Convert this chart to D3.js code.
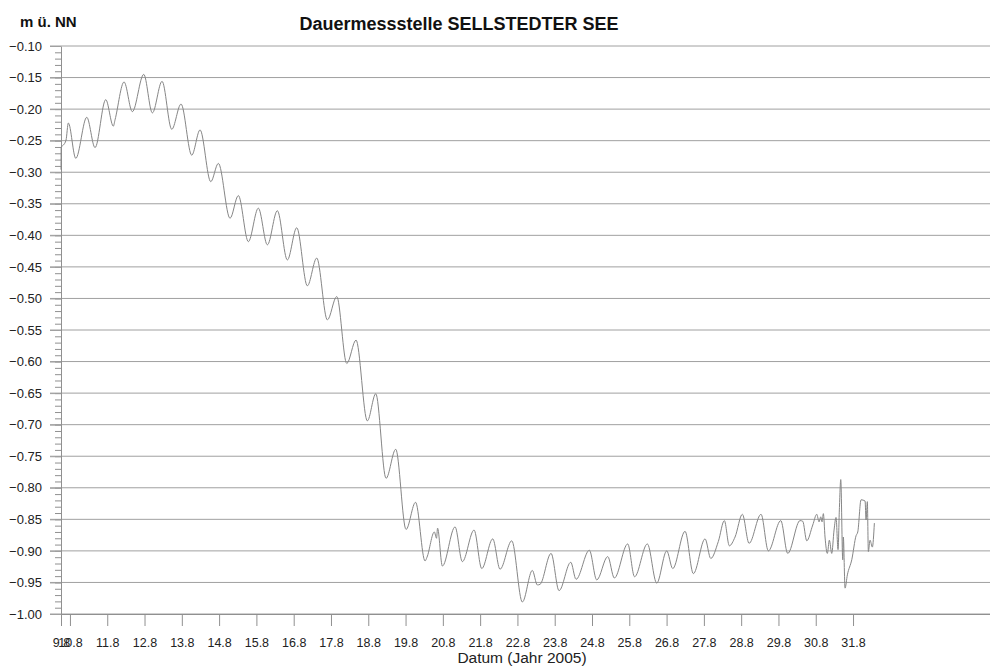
<!DOCTYPE html>
<html>
<head>
<meta charset="utf-8">
<script src="https://cdn.jsdelivr.net/npm/d3@7"></script>
<style>
  html, body { margin: 0; padding: 0; background: #fff; }
  svg { display: block; }
  text { font-family: "Liberation Sans", Arial, sans-serif; }
</style>
</head>
<body>
<svg id="chart" width="990" height="668"></svg>
<script>
// ---- Data ----
// time in days of August 2005 (e.g. 10.5 = 10 Aug, 12:00), water level in m ü. NN
const times = [
  9.760, 9.765, 9.823, 9.895, 9.957, 10.156, 10.451, 10.673, 10.960, 11.164,
  11.209, 11.451, 11.673, 11.979, 12.210, 12.470, 12.730, 12.979, 13.266, 13.489,
  13.776, 13.980, 14.293, 14.516, 14.784, 15.052, 15.294, 15.562, 15.830, 16.082,
  16.366, 16.618, 16.903, 17.155, 17.423, 17.672, 17.975, 18.201, 18.477, 18.737,
  19.013, 19.268, 19.523, 19.575, 19.772, 19.831, 19.858, 19.987, 20.327, 20.523,
  20.837, 21.043, 21.338, 21.534, 21.848, 22.132, 22.400, 22.534, 22.607, 22.902,
  23.116, 23.430, 23.572, 23.929, 24.127, 24.422, 24.599, 24.958, 25.141, 25.484,
  25.736, 26.004, 26.165, 26.495, 26.718, 27.032, 27.185, 27.388, 27.549, 27.683,
  27.836, 28.032, 28.212, 28.533, 28.729, 29.062, 29.249, 29.579, 29.651, 29.759,
  29.920, 30.027, 30.089, 30.134, 30.169, 30.204, 30.249, 30.311, 30.365, 30.429,
  30.491, 30.544, 30.598, 30.633, 30.671, 30.724, 30.740, 30.786, 30.848, 30.966,
  31.081, 31.127, 31.215, 31.323, 31.349, 31.384, 31.411, 31.456, 31.518, 31.572
];
const levels = [
  -0.296, -0.260, -0.257, -0.249, -0.222, -0.278, -0.213, -0.261, -0.185, -0.227,
  -0.217, -0.157, -0.204, -0.145, -0.206, -0.156, -0.232, -0.192, -0.273, -0.233,
  -0.315, -0.286, -0.373, -0.337, -0.410, -0.357, -0.415, -0.361, -0.439, -0.388,
  -0.480, -0.436, -0.534, -0.497, -0.603, -0.566, -0.694, -0.651, -0.785, -0.739,
  -0.866, -0.823, -0.916, -0.910, -0.870, -0.880, -0.864, -0.924, -0.862, -0.917,
  -0.867, -0.928, -0.881, -0.929, -0.884, -0.981, -0.931, -0.954, -0.953, -0.904,
  -0.963, -0.918, -0.945, -0.899, -0.946, -0.909, -0.943, -0.889, -0.941, -0.889,
  -0.951, -0.900, -0.928, -0.869, -0.936, -0.881, -0.912, -0.885, -0.852, -0.892,
  -0.878, -0.842, -0.888, -0.842, -0.900, -0.852, -0.904, -0.852, -0.853, -0.884,
  -0.859, -0.842, -0.854, -0.846, -0.854, -0.841, -0.878, -0.904, -0.883, -0.904,
  -0.867, -0.847, -0.898, -0.835, -0.787, -0.914, -0.878, -0.959, -0.938, -0.914,
  -0.876, -0.870, -0.819, -0.821, -0.851, -0.822, -0.901, -0.883, -0.894, -0.856
];
const xTickDays   = [9.76, 10, 11, 12, 13, 14, 15, 16, 17, 18, 19, 20, 21, 22, 23, 24, 25, 26, 27, 28, 29, 30, 31];
const xTickLabels = ["9.8", "10.8", "11.8", "12.8", "13.8", "14.8", "15.8", "16.8", "17.8", "18.8", "19.8",
                     "20.8", "21.8", "22.8", "23.8", "24.8", "25.8", "26.8", "27.8", "28.8", "29.8", "30.8", "31.8"];
const yTicks = d3.range(0, 19).map(i => +(-1.0 + i * 0.05).toFixed(2));
const yMinorTicks = d3.range(0, 91).map(i => +(-1.0 + i * 0.01).toFixed(2));
const titleText = "Dauermessstelle SELLSTEDTER SEE";
const yTitle = "m ü. NN";
const xTitle = "Datum (Jahr 2005)";

(function () {
  const svg = d3.select("#chart");
  const mLeft = 61, mRight = 990, mTop = 46, mBottom = 614;

  const x = d3.scaleLinear().domain([9.76, 34.673]).range([mLeft, mRight]);
  const y = d3.scaleLinear().domain([-1.0, -0.10]).range([mBottom, mTop]);

  svg.append("rect").attr("width", 990).attr("height", 668).attr("fill", "#fff");

  // grid lines (extend past axis as major ticks)
  svg.append("g").selectAll("line").data(yTicks).join("line")
    .attr("x1", mLeft - 11).attr("x2", mRight)
    .attr("y1", d => y(d)).attr("y2", d => y(d))
    .attr("stroke", "#a0a0a0").attr("stroke-width", 1);

  // minor y ticks
  const yMinor = svg.append("g").attr("transform", `translate(${mLeft},0)`)
    .call(d3.axisLeft(y).tickValues(yMinorTicks).tickSize(6).tickSizeOuter(0).tickFormat(""));
  yMinor.selectAll("line").attr("stroke", "#909090");
  yMinor.select(".domain").attr("stroke", "#909090");

  // y labels
  const yAx = svg.append("g").attr("transform", `translate(${mLeft},0)`)
    .call(d3.axisLeft(y).tickValues(yTicks).tickSize(11).tickSizeOuter(0).tickPadding(8)
          .tickFormat(d3.format(".2f")));
  yAx.select(".domain").remove();
  yAx.selectAll("line").attr("stroke", "#a0a0a0");
  yAx.selectAll("text").attr("font-size", 13).attr("fill", "#222")
    .attr("font-family", "'Liberation Sans', Arial, sans-serif");

  // x axis
  const xAx = svg.append("g").attr("transform", `translate(0,${mBottom})`)
    .call(d3.axisBottom(x).tickValues(xTickDays).tickSize(12).tickSizeOuter(0).tickPadding(12)
          .tickFormat((d, i) => xTickLabels[i]));
  xAx.select(".domain").attr("stroke", "#909090");
  xAx.selectAll("line").attr("stroke", "#909090");
  xAx.selectAll("text").attr("font-size", 12.5).attr("fill", "#222")
    .attr("font-family", "'Liberation Sans', Arial, sans-serif");

  // data line
  const pts = times.map((t, i) => [t, levels[i]]);
  const line = d3.line().x(d => x(d[0])).y(d => y(d[1])).curve(d3.curveMonotoneX);
  svg.append("path").datum(pts)
    .attr("d", line)
    .attr("fill", "none")
    .attr("stroke", "#868686")
    .attr("stroke-width", 1);

  // titles
  svg.append("text").attr("x", 459).attr("y", 29.5).attr("text-anchor", "middle")
    .attr("font-size", 18).attr("font-weight", "bold").attr("fill", "#111").text(titleText);
  svg.append("text").attr("x", 20).attr("y", 27).attr("text-anchor", "start")
    .attr("font-size", 15).attr("font-weight", "bold").attr("fill", "#111").text(yTitle);
  svg.append("text").attr("x", 522).attr("y", 663).attr("text-anchor", "middle")
    .attr("font-size", 15.5).attr("fill", "#222").text(xTitle);
})();
</script>
</body>
</html>
